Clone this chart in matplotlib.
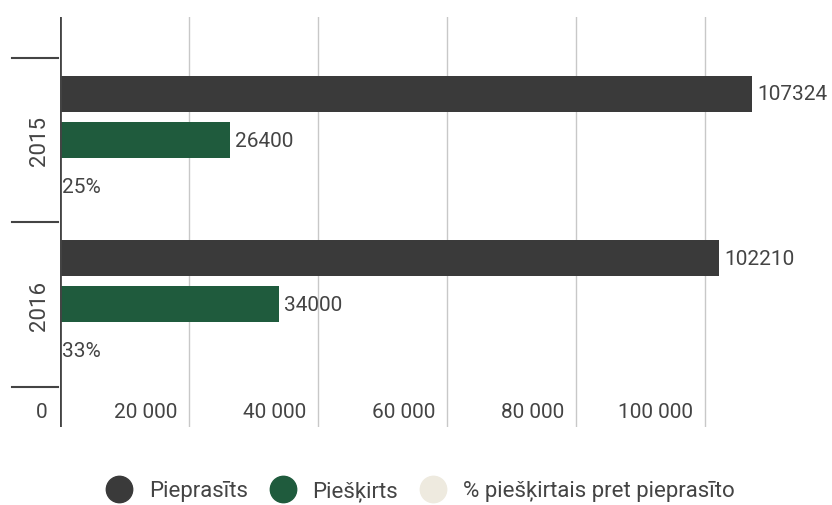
import matplotlib.pyplot as plt
import matplotlib.transforms as mtransforms
from matplotlib.lines import Line2D

years = ["2015", "2016"]
requested = [107324, 102210]
granted = [26400, 34000]
percent = [25, 33]
series_names = ["Pieprasīts", "Piešķirts", "% piešķirtais pret pieprasīto"]
colors = ["#3a3a3a", "#1f5b3d", "#eeeadf"]
xticks = [0, 20000, 40000, 60000, 80000, 100000]
xtick_labels = ["0", "20 000", "40 000", "60 000", "80 000", "100 000"]

plt.rcParams['font.family'] = ['Roboto', 'DejaVu Sans']
text_color = "#444444"
fs = 15

fig = plt.figure(figsize=(8.32, 5.06), dpi=100)
W, H = 832, 506
ax = fig.add_axes([60 / W, 1 - 428 / H, (W - 60) / W, 410 / H])

offset = 0.28
height = 0.219
for i in range(len(years)):
    vals = [requested[i], granted[i], percent[i]]
    labels = [str(requested[i]), str(granted[i]), f"{percent[i]}%"]
    for j, (v, lab) in enumerate(zip(vals, labels)):
        yy = i + (j - 1) * offset
        ax.barh(yy, v, height=height, color=colors[j], zorder=3)
        pad = 3.5 if j < 2 else 1
        ax.annotate(lab, (v, yy), xytext=(pad, 0), textcoords="offset points",
                    va="center", ha="left", fontsize=fs, color=text_color)

ax.set_xlim(0, 119700)
ax.set_ylim(1.745, -0.748)

for x in xticks[1:]:
    ax.axvline(x, color="#c8c8c8", lw=1, zorder=1)

for s in ax.spines.values():
    s.set_visible(False)
ax.axvline(0, color="#444444", lw=2, zorder=4)
ax.set_xticks([])
ax.set_yticks([])

# x labels sit inside the plot, right-aligned before each gridline
tr = mtransforms.blended_transform_factory(ax.transData, ax.transAxes)
shift = mtransforms.ScaledTranslation(-12 / 100, 0, fig.dpi_scale_trans)
for x, lab in zip(xticks, xtick_labels):
    ax.text(x, (428 - 413) / 410, lab, transform=tr + shift,
            ha="right", va="center", fontsize=fs, color=text_color)

# category separators and year labels
tr2 = mtransforms.blended_transform_factory(ax.transAxes, ax.transData)
for yb in [-0.5, 0.5, 1.5]:
    ax.plot([-48 / 772, -2 / 772], [yb, yb], color="#444444", lw=1.5,
            transform=tr2, clip_on=False)
for i, yr in enumerate(years):
    ax.text(-20 / 772, i, yr, transform=tr2, rotation=90, ha="center",
            va="center", fontsize=16, color=text_color)

handles = [Line2D([], [], marker="o", ls="", markersize=19, color=c) for c in colors]
fig.legend(handles, series_names, loc="center", bbox_to_anchor=(0.505, 1 - 492 / H),
           ncol=3, frameon=False, fontsize=16, labelcolor=text_color,
           handlelength=1.2, handletextpad=0.75, columnspacing=0.95)

fig.savefig("out.png", dpi=100)
